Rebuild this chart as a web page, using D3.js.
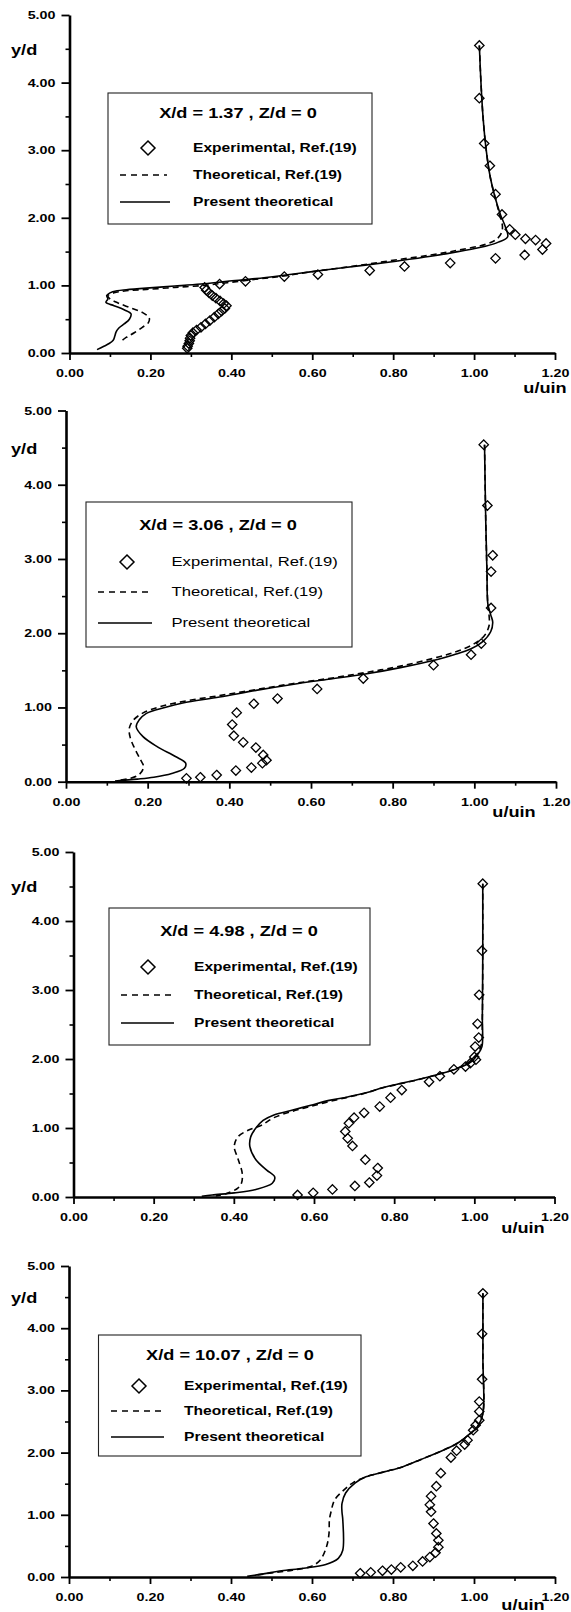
<!DOCTYPE html>
<html>
<head>
<meta charset="utf-8">
<script src="https://cdn.jsdelivr.net/npm/d3@7"></script>
<style>
  html, body { margin: 0; padding: 0; background: #fff; }
  svg { display: block; }
</style>
</head>
<body>
<svg id="fig" width="571" height="1612"></svg>
<script>
// ---- axis ticks ---------------------------------------------------------
const uTicks = [0, 0.2, 0.4, 0.6, 0.8, 1.0, 1.2];
const uMinorTicks = [0.1, 0.3, 0.5, 0.7, 0.9, 1.1];
const yTicks = [0, 1, 2, 3, 4, 5];
const yMinorTicks = [0.5, 1.5, 2.5, 3.5, 4.5];

// ---- captions -----------------------------------------------------------
const stations = [
  "X/d = 1.37 , Z/d = 0",
  "X/d = 3.06 , Z/d = 0",
  "X/d = 4.98 , Z/d = 0",
  "X/d = 10.07 , Z/d = 0"
];
const legendLabels = ["Experimental, Ref.(19)", "Theoretical, Ref.(19)", "Present theoretical"];
const xTitle = "u/uin";
const yTitle = "y/d";

// ---- X/d = 1.37 : [u/uin, y/d] --------------------------------------------
const exp137 = [
  [1.013,4.55],[1.013,3.77],[1.025,3.10],[1.039,2.77],[1.053,2.35],[1.069,2.05],
  [1.088,1.83],[1.102,1.75],[1.127,1.69],[1.152,1.67],[1.178,1.62],[1.169,1.53],
  [1.125,1.45],[1.053,1.40],[0.941,1.33],[0.828,1.28],[0.742,1.22],[0.614,1.16],
  [0.531,1.13],[0.435,1.06],[0.371,1.02],
  [0.334,0.97],[0.338,0.93],[0.345,0.89],[0.353,0.85],[0.362,0.81],[0.372,0.77],
  [0.381,0.73],[0.388,0.70],[0.384,0.66],[0.376,0.62],[0.368,0.58],[0.358,0.53],
  [0.347,0.48],[0.336,0.43],[0.325,0.38],[0.314,0.34],[0.305,0.30],[0.300,0.26],
  [0.298,0.22],[0.297,0.18],[0.295,0.14],[0.292,0.10],[0.291,0.07]
];
const ref137 = [
  [1.013,4.55],[1.017,4.0],[1.022,3.5],[1.030,3.0],[1.040,2.6],[1.052,2.3],
  [1.063,2.05],[1.070,1.88],[1.068,1.78],[1.055,1.68],[1.030,1.61],[0.960,1.52],
  [0.893,1.45],[0.810,1.38],[0.731,1.31],[0.660,1.25],[0.595,1.20],[0.530,1.14],
  [0.460,1.09],[0.390,1.04],[0.334,1.00],[0.260,0.97],[0.190,0.94],[0.140,0.92],
  [0.110,0.89],[0.095,0.85],[0.100,0.80],[0.120,0.74],[0.150,0.67],[0.180,0.60],
  [0.197,0.52],[0.195,0.45],[0.180,0.38],[0.160,0.30],[0.140,0.23],[0.127,0.17]
];
const present137 = [
  [1.013,4.55],[1.017,4.0],[1.022,3.5],[1.030,3.0],[1.040,2.6],[1.052,2.3],
  [1.065,2.05],[1.077,1.87],[1.083,1.72],[1.060,1.64],[1.028,1.58],[0.960,1.50],
  [0.893,1.43],[0.810,1.36],[0.731,1.30],[0.660,1.25],[0.595,1.20],[0.530,1.15],
  [0.460,1.10],[0.390,1.06],[0.325,1.02],[0.260,0.99],[0.190,0.96],[0.140,0.935],
  [0.118,0.92],[0.100,0.89],[0.092,0.85],[0.095,0.80],[0.090,0.75],[0.110,0.70],
  [0.135,0.64],[0.152,0.58],[0.148,0.50],[0.135,0.43],[0.122,0.37],[0.115,0.31],
  [0.112,0.25],[0.108,0.19],[0.098,0.14],[0.085,0.10],[0.068,0.05]
];

// ---- X/d = 3.06 ---------------------------------------------------------
const exp306 = [
  [1.023,4.54],[1.032,3.72],[1.045,3.05],[1.041,2.83],[1.041,2.34],[1.017,1.86],
  [0.992,1.71],[0.900,1.57],[0.728,1.39],[0.615,1.25],[0.518,1.12],[0.460,1.05],
  [0.418,0.93],[0.407,0.77],[0.411,0.62],[0.434,0.53],[0.465,0.46],[0.483,0.36],
  [0.491,0.29],[0.481,0.25],[0.454,0.19],[0.416,0.15],[0.369,0.09],[0.329,0.06],
  [0.295,0.045]
];
const ref306 = [
  [1.025,4.54],[1.028,3.5],[1.031,2.8],[1.033,2.40],[1.036,2.25],[1.036,2.10],
  [1.025,1.97],[1.000,1.86],[0.960,1.76],[0.912,1.68],[0.822,1.56],[0.733,1.47],
  [0.643,1.39],[0.554,1.32],[0.465,1.24],[0.376,1.16],[0.286,1.08],[0.230,1.01],
  [0.190,0.93],[0.165,0.83],[0.155,0.72],[0.157,0.60],[0.168,0.45],[0.182,0.30],
  [0.190,0.20],[0.180,0.10],[0.157,0.045],[0.130,0.02]
];
const present306 = [
  [1.025,4.54],[1.028,3.5],[1.031,2.8],[1.033,2.40],[1.040,2.25],[1.045,2.15],
  [1.040,2.02],[1.019,1.88],[0.992,1.79],[0.950,1.71],[0.912,1.65],[0.822,1.54],
  [0.733,1.45],[0.643,1.38],[0.554,1.31],[0.465,1.23],[0.376,1.14],[0.286,1.06],
  [0.242,1.00],[0.197,0.92],[0.179,0.83],[0.172,0.74],[0.188,0.61],[0.224,0.47],
  [0.268,0.34],[0.293,0.25],[0.290,0.18],[0.259,0.11],[0.215,0.06],[0.175,0.035],
  [0.120,0.01]
];

// ---- X/d = 4.98 ---------------------------------------------------------
const exp498 = [
  [1.021,4.54],[1.019,3.57],[1.012,2.93],[1.008,2.51],[1.011,2.31],[1.002,2.18],
  [1.000,2.03],[1.004,1.99],[0.990,1.94],[0.978,1.89],[0.949,1.85],[0.914,1.75],
  [0.887,1.67],[0.819,1.55],[0.791,1.44],[0.764,1.31],[0.725,1.22],[0.700,1.15],
  [0.687,1.07],[0.678,0.95],[0.684,0.85],[0.696,0.74],[0.728,0.54],[0.759,0.42],
  [0.757,0.31],[0.738,0.21],[0.702,0.16],[0.646,0.11],[0.598,0.06],[0.559,0.03]
];
const ref498 = [
  [1.021,4.54],[1.021,3.5],[1.020,2.6],[1.017,2.20],[1.005,2.06],[0.985,1.95],
  [0.950,1.85],[0.905,1.77],[0.860,1.70],[0.815,1.64],[0.770,1.58],[0.725,1.50],
  [0.680,1.44],[0.635,1.38],[0.590,1.31],[0.545,1.24],[0.500,1.15],[0.469,1.04],
  [0.437,0.97],[0.410,0.87],[0.401,0.73],[0.410,0.56],[0.421,0.34],[0.419,0.20],
  [0.410,0.13],[0.382,0.05],[0.355,0.015]
];
const present498 = [
  [1.021,4.54],[1.021,3.5],[1.020,2.6],[1.019,2.18],[1.010,2.08],[0.992,1.96],
  [0.956,1.86],[0.911,1.78],[0.865,1.71],[0.820,1.65],[0.775,1.59],[0.730,1.51],
  [0.684,1.45],[0.638,1.40],[0.592,1.33],[0.547,1.26],[0.500,1.19],[0.473,1.11],
  [0.455,1.00],[0.442,0.87],[0.440,0.73],[0.455,0.54],[0.482,0.39],[0.502,0.29],
  [0.496,0.20],[0.455,0.11],[0.401,0.06],[0.346,0.03],[0.320,0.01]
];

// ---- X/d = 10.07 --------------------------------------------------------
const exp1007 = [
  [1.022,4.56],[1.020,3.91],[1.020,3.18],[1.013,2.82],[1.013,2.66],[1.013,2.52],
  [1.004,2.44],[0.998,2.36],[0.984,2.20],[0.977,2.13],[0.957,2.03],[0.943,1.92],
  [0.918,1.67],[0.907,1.46],[0.894,1.30],[0.891,1.16],[0.894,1.05],[0.900,0.86],
  [0.907,0.70],[0.912,0.59],[0.912,0.48],[0.905,0.39],[0.891,0.32],[0.873,0.25],
  [0.849,0.18],[0.819,0.155],[0.796,0.12],[0.774,0.10],[0.745,0.075],[0.719,0.06]
];
const ref1007 = [
  [1.022,4.56],[1.022,3.5],[1.022,2.63],[1.009,2.42],[0.986,2.28],[0.959,2.15],
  [0.914,2.01],[0.869,1.89],[0.823,1.77],[0.778,1.69],[0.733,1.61],[0.700,1.51],
  [0.679,1.40],[0.656,1.24],[0.647,1.05],[0.643,0.92],[0.642,0.70],[0.636,0.49],
  [0.620,0.27],[0.597,0.17],[0.552,0.11],[0.507,0.07],[0.460,0.03]
];
const present1007 = [
  [1.022,4.56],[1.022,3.5],[1.022,2.63],[1.009,2.42],[0.986,2.28],[0.959,2.15],
  [0.914,2.01],[0.869,1.89],[0.823,1.77],[0.778,1.69],[0.733,1.61],[0.706,1.51],
  [0.683,1.35],[0.674,1.18],[0.674,1.05],[0.676,0.92],[0.676,0.43],[0.665,0.30],
  [0.634,0.20],[0.579,0.14],[0.525,0.10],[0.480,0.05],[0.440,0.01]
];

const experimental = [exp137, exp306, exp498, exp1007];
const reference = [ref137, ref306, ref498, ref1007];
const present = [present137, present306, present498, present1007];

// ---- page layout of the four stacked plots --------------------------------
const frames = [
  { left: 69.5, right: 555,   top: 15,    bottom: 353,   xLabel: [545, 388] },
  { left: 66,   right: 556,   top: 410.5, bottom: 781.7, xLabel: [514, 812] },
  { left: 73.5, right: 554.5, top: 852,   bottom: 1197,  xLabel: [523, 1228] },
  { left: 69,   right: 555,   top: 1266,  bottom: 1577,  xLabel: [523, 1605] }
];
const legendBoxes = [
  { x0: 108,  y0: 93,   x1: 372, y1: 224,  titleX: 238, titleY: 113,  rows: [148, 175, 202],    mark: 148, line: [120, 170], text: 193,   size: 12,   weight: "bold" },
  { x0: 86,   y0: 502,  x1: 352, y1: 647,  titleX: 218, titleY: 525,  rows: [562, 592, 623],    mark: 127, line: [98, 152],  text: 171.5, size: 12.8, weight: "normal" },
  { x0: 109,  y0: 908,  x1: 370, y1: 1045, titleX: 239, titleY: 931,  rows: [967, 995, 1023],   mark: 148, line: [121, 174], text: 194,   size: 12,   weight: "bold" },
  { x0: 98.5, y0: 1335, x1: 361, y1: 1456, titleX: 230, titleY: 1355, rows: [1386, 1411, 1437], mark: 139, line: [111, 164], text: 184,   size: 12,   weight: "bold" }
];

const SX = 1.3;               // lettering is printed wide
const FONT = "'Liberation Sans', Arial, Helvetica, sans-serif";

const svg = d3.select("#fig");
svg.append("rect").attr("width", 571).attr("height", 1612).attr("fill", "#fff");

// widen axis labels in place
function widen(sel, size, weight) {
  sel.each(function () {
    const t = d3.select(this);
    const x = +t.attr("x") || 0;
    t.attr("x", 0).attr("transform", `translate(${x},0) scale(${SX},1)`);
  })
  .attr("fill", "#000")
  .style("font-family", FONT)
  .style("font-size", size + "px")
  .style("font-weight", weight);
}

function caption(g, x, y, str, size, weight, anchor) {
  g.append("text")
    .attr("transform", `translate(${x},${y}) scale(${SX},1)`)
    .attr("text-anchor", anchor || "start")
    .attr("dy", "0.35em")
    .attr("fill", "#000")
    .style("font-family", FONT)
    .style("font-size", size + "px")
    .style("font-weight", weight || "bold")
    .text(str);
}

function diamond(r) {
  const p = d3.path();
  p.moveTo(0, -r); p.lineTo(r, 0); p.lineTo(0, r); p.lineTo(-r, 0); p.closePath();
  return p.toString();
}

frames.forEach((f, i) => {
  const x = d3.scaleLinear().domain([0, 1.2]).range([f.left, f.right]);
  const y = d3.scaleLinear().domain([0, 5]).range([f.bottom, f.top]);
  const g = svg.append("g");

  // minor ticks
  g.append("g").attr("transform", `translate(0,${f.bottom})`)
    .call(d3.axisBottom(x).tickValues(uMinorTicks).tickSize(4).tickFormat(""))
    .call(s => s.select(".domain").remove())
    .selectAll("line").attr("stroke", "#000").attr("stroke-width", 1.6);
  g.append("g").attr("transform", `translate(${f.left},0)`)
    .call(d3.axisLeft(y).tickValues(yMinorTicks).tickSize(4).tickFormat(""))
    .call(s => s.select(".domain").remove())
    .selectAll("line").attr("stroke", "#000").attr("stroke-width", 1.6);

  // x axis
  const ax = g.append("g").attr("transform", `translate(0,${f.bottom})`)
    .call(d3.axisBottom(x).tickValues(uTicks).tickSize(7).tickSizeOuter(0)
      .tickPadding(9).tickFormat(d3.format(".2f")));
  ax.select(".domain").attr("stroke", "#000").attr("stroke-width", 2.6);
  ax.selectAll(".tick line").attr("stroke", "#000").attr("stroke-width", 1.8);
  widen(ax.selectAll("text"), 11, "bold");

  // y axis
  const ay = g.append("g").attr("transform", `translate(${f.left},0)`)
    .call(d3.axisLeft(y).tickValues(yTicks).tickSize(8).tickSizeOuter(0)
      .tickPadding(6).tickFormat(d3.format(".2f")));
  ay.select(".domain").attr("stroke", "#000").attr("stroke-width", 2.6);
  ay.selectAll(".tick line").attr("stroke", "#000").attr("stroke-width", 1.8);
  widen(ay.selectAll("text"), 11, "bold");

  // axis titles
  caption(g, 11, y(4.5) + 1, yTitle, 14, "bold", "start");
  caption(g, f.xLabel[0], f.xLabel[1], xTitle, 14, "bold", "middle");

  // profiles
  const line = d3.line().x(d => x(d[0])).y(d => y(d[1])).curve(d3.curveCatmullRom.alpha(0.5));
  g.append("path").datum(reference[i]).attr("d", line)
    .attr("fill", "none").attr("stroke", "#000").attr("stroke-width", 1.6)
    .attr("stroke-dasharray", "6,4");
  g.append("path").datum(present[i]).attr("d", line)
    .attr("fill", "none").attr("stroke", "#000").attr("stroke-width", 1.6);

  g.append("g").selectAll("path").data(experimental[i]).join("path")
    .attr("transform", d => `translate(${x(d[0])},${y(d[1])})`)
    .attr("d", diamond(4.7))
    .attr("fill", "none").attr("stroke", "#000").attr("stroke-width", 1.3);

  // legend
  const L = legendBoxes[i];
  const lg = g.append("g");
  lg.append("rect").attr("x", L.x0).attr("y", L.y0)
    .attr("width", L.x1 - L.x0).attr("height", L.y1 - L.y0)
    .attr("fill", "#fff").attr("stroke", "#222").attr("stroke-width", 1.1);
  caption(lg, L.titleX, L.titleY, stations[i], 14, "bold", "middle");
  lg.append("path").attr("transform", `translate(${L.mark},${L.rows[0]})`)
    .attr("d", diamond(7)).attr("fill", "none").attr("stroke", "#000").attr("stroke-width", 1.5);
  lg.append("line").attr("x1", L.line[0]).attr("x2", L.line[1] - 3)
    .attr("y1", L.rows[1]).attr("y2", L.rows[1])
    .attr("stroke", "#000").attr("stroke-width", 1.5).attr("stroke-dasharray", "6,5");
  lg.append("line").attr("x1", L.line[0]).attr("x2", L.line[1])
    .attr("y1", L.rows[2]).attr("y2", L.rows[2])
    .attr("stroke", "#000").attr("stroke-width", 1.5);
  legendLabels.forEach((lab, k) => caption(lg, L.text, L.rows[k], lab, L.size, L.weight, "start"));
});
</script>
</body>
</html>
